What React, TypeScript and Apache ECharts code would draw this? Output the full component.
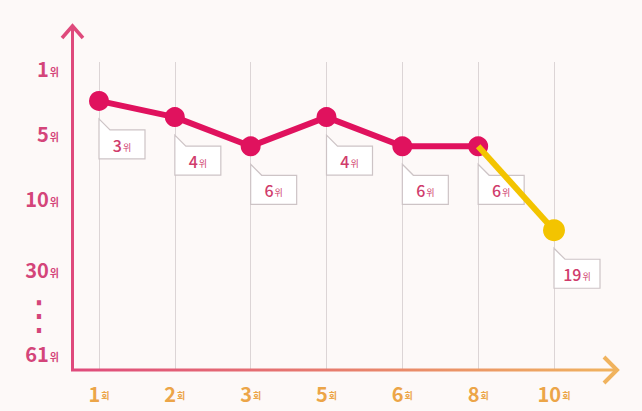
import React, { useEffect, useRef } from "react";
import * as echarts from "echarts";

// ---- data ----
const categories = ["1회", "2회", "3회", "5회", "6회", "8회", "10회"];
const ranks = [3, 4, 6, 4, 6, 6, 19];
const trendStartIndex = 5; // yellow segment starts at 8회

// y-axis tick labels (ranks) and their slot on the (non-linear) rank scale
const yTickRanks = [1, 5, 10, 30, 61];
const yTickSlots = [0, 20, 40, 62, 88];
const yEllipsisSlot = 76;

const PINK = "#e0125e";
const YELLOW = "#f3c400";
const AXIS_PINK = "#df4a7c";
const LABEL_PINK = "#d4457a";
const ORANGE = "#eca548";

// piecewise-linear rank scale
function rankToSlot(r: number): number {
  for (let i = 0; i < yTickRanks.length - 1; i++) {
    const a = yTickRanks[i];
    const b = yTickRanks[i + 1];
    if (r >= a && r <= b) {
      return yTickSlots[i] + ((r - a) / (b - a)) * (yTickSlots[i + 1] - yTickSlots[i]);
    }
  }
  return yTickSlots[yTickSlots.length - 1];
}

export default function App() {
  const ref = useRef<HTMLDivElement>(null);

  useEffect(() => {
    if (!ref.current) return;
    document.body.style.margin = "0";
    const chart = echarts.init(ref.current, undefined, { renderer: "svg" });

    const pinkData = ranks.map((r, i) => (i <= trendStartIndex ? rankToSlot(r) : "-"));
    const yellowData = ranks.map((r, i) => (i >= trendStartIndex ? rankToSlot(r) : "-"));
    const calloutData = ranks.map((r, i) => [i, rankToSlot(r), r]);

    const option: any = {
      animation: false,
      backgroundColor: "#fdf9f8",
      grid: { left: 99, right: 88, top: 62, bottom: 41 },
      xAxis: {
        type: "category",
        boundaryGap: false,
        data: categories,
        axisLine: { show: false },
        axisTick: { show: false },
        splitLine: { show: true, interval: 0, lineStyle: { color: "#dcd5d6", width: 1 } },
        axisLabel: {
          interval: 0,
          margin: 13,
          formatter: (v: string) => {
            const m = v.match(/^(\d+)(.*)$/);
            return m ? `{n|${m[1]}}{u|${m[2]}}` : v;
          },
          rich: {
            n: { fontSize: 20, fontWeight: "bold", color: ORANGE, fontFamily: "Noto Sans CJK KR" },
            u: { fontSize: 9, fontWeight: "bold", color: ORANGE, fontFamily: "Noto Sans CJK KR", padding: [6, 0, 0, 1] },
          },
        },
      },
      yAxis: {
        type: "value",
        inverse: true,
        min: -2,
        max: 93,
        interval: 1,
        offset: 26,
        axisLine: { show: false },
        axisTick: { show: false },
        splitLine: { show: false },
        axisLabel: {
          margin: 14,
          formatter: (v: number) => {
            const s = Math.round(v);
            const idx = yTickSlots.indexOf(s);
            if (idx >= 0) return `{n|${yTickRanks[idx]}}{u|위}`;
            if (s === yEllipsisSlot) return "{d|⋮}";
            return "";
          },
          rich: {
            n: { fontSize: 20, fontWeight: "bold", color: LABEL_PINK, fontFamily: "Noto Sans CJK KR" },
            u: { fontSize: 10, fontWeight: "bold", color: LABEL_PINK, fontFamily: "Noto Sans CJK KR", padding: [6, 0, 0, 1] },
            d: { fontSize: 40, color: LABEL_PINK, fontFamily: "DejaVu Sans", padding: [0, 0, 0, 0] },
          },
        },
      },
      graphic: [
        {
          type: "rect",
          shape: { x: 71, y: 26, width: 3, height: 345 },
          style: { fill: AXIS_PINK },
          z: 10,
        },
        {
          type: "rect",
          shape: { x: 71, y: 368.5, width: 544, height: 3 },
          style: {
            fill: new echarts.graphic.LinearGradient(
              71, 0, 615, 0,
              [
                { offset: 0, color: AXIS_PINK },
                { offset: 1, color: "#f0b35e" },
              ],
              true
            ),
          },
          z: 10,
        },
        {
          type: "polyline",
          shape: { points: [[62, 38], [72.5, 26], [83, 38]] },
          style: { stroke: AXIS_PINK, lineWidth: 3.5, fill: null, lineJoin: "miter" },
          z: 10,
        },
        {
          type: "polyline",
          shape: { points: [[604, 357], [617, 370], [604, 383]] },
          style: { stroke: "#f0b35e", lineWidth: 4, fill: null },
          z: 10,
        },
      ],
      series: [
        {
          type: "custom",
          z: 1,
          data: calloutData,
          renderItem: (params: any, api: any) => {
            const p = api.coord([api.value(0), api.value(1)]);
            const x = p[0];
            const y = p[1];
            const r = api.value(2);
            return {
              type: "group",
              children: [
                {
                  type: "polygon",
                  shape: {
                    points: [
                      [x, y + 18],
                      [x + 11, y + 29],
                      [x + 46, y + 29],
                      [x + 46, y + 58],
                      [x, y + 58],
                    ],
                  },
                  style: { fill: "#ffffff", stroke: "#cdc4c6", lineWidth: 1.2 },
                },
                {
                  type: "text",
                  style: {
                    text: `{n|${r}}{u|위}`,
                    x: x + 23,
                    y: y + 44,
                    align: "center",
                    verticalAlign: "middle",
                    rich: {
                      n: { fontSize: 16, fontWeight: 500, fill: "#d03c6c", fontFamily: "Noto Sans CJK KR" },
                      u: { fontSize: 9, fill: "#d03c6c", fontFamily: "Noto Sans CJK KR", padding: [5, 0, 0, 1] },
                    },
                  },
                },
              ],
            };
          },
        },
        {
          type: "line",
          z: 3,
          data: pinkData,
          symbol: "circle",
          symbolSize: 20,
          lineStyle: { color: PINK, width: 6 },
          itemStyle: { color: PINK },
        },
        {
          type: "line",
          z: 4,
          data: yellowData,
          symbol: "circle",
          symbolSize: (_v: any, params: any) => (params.dataIndex === ranks.length - 1 ? 22 : 0),
          lineStyle: { color: YELLOW, width: 6 },
          itemStyle: { color: YELLOW },
        },
      ],
    };

    chart.setOption(option);
    return () => chart.dispose();
  }, []);

  return (
    <div
      ref={ref}
      style={{ position: "fixed", left: 0, top: 0, width: 642, height: 411 }}
    />
  );
}
